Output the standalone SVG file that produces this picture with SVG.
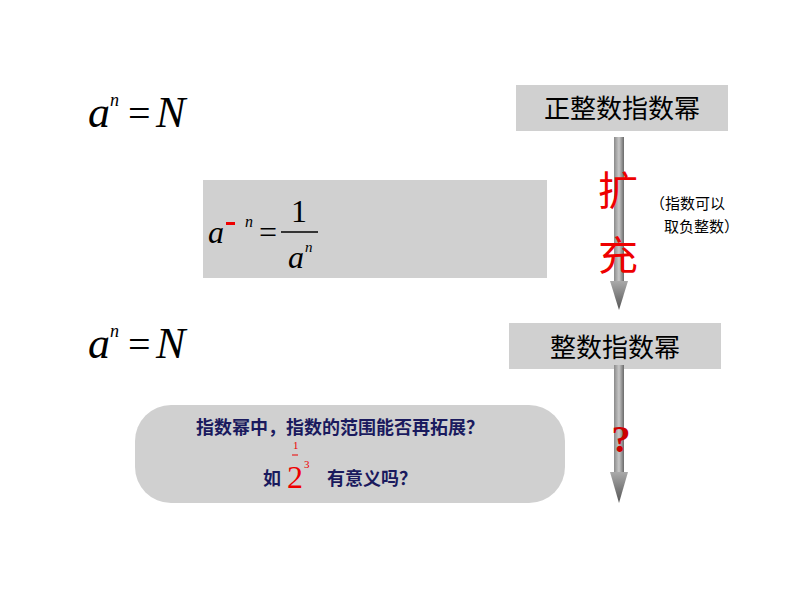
<svg xmlns="http://www.w3.org/2000/svg" width="794" height="596" viewBox="0 0 794 596">
<style>
.m{font-family:"Liberation Serif",serif;font-style:italic}
.r{font-family:"Liberation Serif",serif}
.cn{font-family:"Liberation Sans","Noto Sans CJK SC",sans-serif}
.box{fill:#d0d0d0}
</style>
<defs>
<linearGradient id="g" x1="0" x2="1" y1="0" y2="0">
<stop offset="0" stop-color="#8a8a8a"/><stop offset="0.5" stop-color="#c8c8c8"/><stop offset="1" stop-color="#6a6a6a"/>
</linearGradient>
<linearGradient id="gv" x1="0" x2="0" y1="0" y2="1">
<stop offset="0" stop-color="#aaaaaa"/><stop offset="1" stop-color="#555555"/>
</linearGradient>
</defs>
<rect width="794" height="596" fill="#fff"/>
<g id="eq1"><text x="88" y="127" class="m" font-size="44">a</text><text x="110" y="106" class="m" font-size="18">n</text><text x="128" y="127" class="r" font-size="40">=</text><text x="156" y="127" class="m" font-size="44">N</text></g>
<g id="eq2"><text x="88" y="358" class="m" font-size="44">a</text><text x="110" y="337" class="m" font-size="18">n</text><text x="128" y="358" class="r" font-size="40">=</text><text x="156" y="358" class="m" font-size="44">N</text></g>
<g id="node1"><rect x="516" y="85" width="212" height="46" class="box"/><text x="622" y="118" class="cn" font-size="26" text-anchor="middle" fill="#000">正整数指数幂</text></g>
<g id="node2"><rect x="509" y="323" width="212" height="46" class="box"/><text x="615" y="357" class="cn" font-size="26" text-anchor="middle" fill="#000">整数指数幂</text></g>
<g id="formula"><rect x="203" y="180" width="344" height="98" class="box"/>
<text x="208" y="243" class="m" font-size="32">a</text><rect x="226" y="222" width="9" height="3" fill="#e00"/><text x="245" y="227" class="m" font-size="16">n</text>
<text x="259" y="243" class="r" font-size="32">=</text><line x1="281" y1="232" x2="318" y2="232" stroke="#000" stroke-width="1.5"/>
<text x="299" y="222" class="r" font-size="32" text-anchor="middle">1</text>
<text x="288" y="268" class="m" font-size="32">a</text><text x="305" y="252" class="m" font-size="15">n</text></g>
<g id="question"><rect x="135" y="405" width="430" height="98" rx="36" class="box"/>
<text x="340" y="434" class="cn" font-size="18" font-weight="bold" text-anchor="middle" fill="#1a1a5e">指数幂中，指数的范围能否再拓展？</text>
<text x="263" y="485" class="cn" font-size="18" font-weight="bold" fill="#1a1a5e">如</text>
<text x="287" y="488" class="r" font-size="32" fill="#e00">2</text>
<text x="293" y="449" class="r" font-size="11" fill="#e00">1</text><line x1="292" y1="455" x2="298" y2="455" stroke="#e00"/><text x="304" y="468" class="r" font-size="11" fill="#e00">3</text>
<text x="327" y="485" class="cn" font-size="18" font-weight="bold" fill="#1a1a5e">有意义吗？</text></g>
<g id="connectors">
<rect x="614" y="137" width="10" height="145" fill="url(#g)"/><polygon points="610,281 628,281 619,310" fill="url(#gv)"/>
<rect x="614" y="365" width="10" height="108" fill="url(#g)"/><polygon points="610,472 628,472 619,503" fill="url(#gv)"/>
</g>
<text x="598" y="205" class="cn" font-size="40" fill="#e00">扩</text>
<text x="598" y="270" class="cn" font-size="40" fill="#e00">充</text>
<text x="650" y="209" class="cn" font-size="15" fill="#000">（指数可以</text>
<text x="664" y="232" class="cn" font-size="15" fill="#000">取负整数）</text>
<text x="621" y="452" class="r" font-size="38" font-weight="bold" fill="#c00" text-anchor="middle">?</text>
</svg>
